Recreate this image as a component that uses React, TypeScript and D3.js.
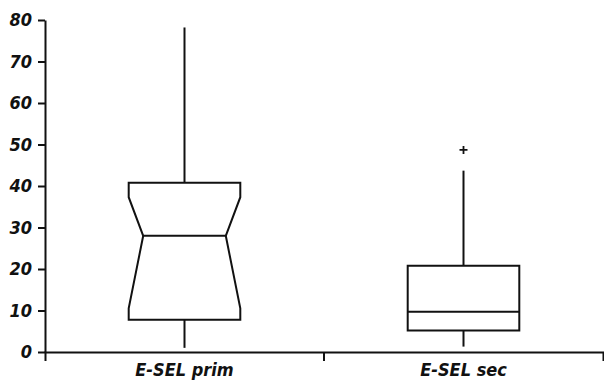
import React, { useEffect, useRef } from 'react';
import * as d3 from 'd3';

const categories = ['E-SEL prim', 'E-SEL sec'];
const whiskerLow = [1, 1.3];
const q1 = [7.8, 5.2];
const median = [28, 9.7];
const q3 = [40.8, 20.8];
const whiskerHigh = [78.2, 43.7];
// notch limits, null means the box is drawn without a notch
const notchLow = [10.5, null];
const notchHigh = [37.3, null];
const outliers = [[], [48.7]];
const yTicks = [0, 10, 20, 30, 40, 50, 60, 70, 80];

const FONT = '"Liberation Sans Narrow", "DejaVu Sans Condensed", "Liberation Sans", sans-serif';

const App = () => {
  const ref = useRef<SVGSVGElement>(null);

  useEffect(() => {
    const svg = d3.select(ref.current);
    svg.selectAll('*').remove();

    const left = 45, right = 603, top = 20, bottom = 352;

    const x = d3.scaleBand().domain(categories).range([left, right]).padding(0);
    const y = d3.scaleLinear().domain([0, 80]).range([bottom, top]);

    const styleText = (sel: any) =>
      sel.attr('fill', '#111')
        .style('font-family', FONT)
        .style('font-size', '18px')
        .style('font-weight', 'bold')
        .style('font-style', 'italic');

    // y axis
    const yAxis = d3.axisLeft(y).tickValues(yTicks).tickSize(7).tickSizeOuter(0).tickPadding(6);
    const gy = svg.append('g').attr('transform', `translate(${left},0)`).call(yAxis);
    gy.selectAll('path, line').attr('stroke', '#111').attr('stroke-width', 2);
    styleText(gy.selectAll('text'));

    // x axis: ends as outer ticks, labels without ticks
    const xAxis = d3.axisBottom(x).tickSize(0).tickSizeOuter(9).tickPadding(11);
    const gx = svg.append('g').attr('transform', `translate(0,${bottom})`).call(xAxis);
    gx.selectAll('path').attr('stroke', '#111').attr('stroke-width', 2);
    styleText(gx.selectAll('text'));
    // boundary ticks between categories
    categories.slice(1).forEach((c) => {
      gx.append('line')
        .attr('x1', x(c)!).attr('x2', x(c)!)
        .attr('y1', 0).attr('y2', 9)
        .attr('stroke', '#111').attr('stroke-width', 2);
    });

    const boxW = x.bandwidth() * 0.4;
    const notchInset = boxW * 0.13;

    categories.forEach((c, i) => {
      const cx = x(c)! + x.bandwidth() / 2;
      const x0 = cx - boxW / 2;
      const x1 = cx + boxW / 2;
      const g = svg.append('g')
        .attr('fill', 'none')
        .attr('stroke', '#111')
        .attr('stroke-width', 2);

      // whiskers
      g.append('line').attr('x1', cx).attr('x2', cx).attr('y1', y(q3[i])).attr('y2', y(whiskerHigh[i]));
      g.append('line').attr('x1', cx).attr('x2', cx).attr('y1', y(q1[i])).attr('y2', y(whiskerLow[i]));

      let pts: [number, number][];
      const nl = notchLow[i];
      const nh = notchHigh[i];
      if (nl != null && nh != null) {
        pts = [
          [x0, y(q3[i])], [x1, y(q3[i])], [x1, y(nh)], [x1 - notchInset, y(median[i])],
          [x1, y(nl)], [x1, y(q1[i])], [x0, y(q1[i])], [x0, y(nl)],
          [x0 + notchInset, y(median[i])], [x0, y(nh)],
        ];
      } else {
        pts = [[x0, y(q3[i])], [x1, y(q3[i])], [x1, y(q1[i])], [x0, y(q1[i])]];
      }
      g.append('path').attr('d', d3.line()(pts) + 'Z').attr('fill', 'white');

      // median
      const inset = nl != null ? notchInset : 0;
      g.append('line')
        .attr('x1', x0 + inset).attr('x2', x1 - inset)
        .attr('y1', y(median[i])).attr('y2', y(median[i]));

      // outliers
      outliers[i].forEach((v) => {
        g.append('path')
          .attr('d', `M${cx - 4},${y(v)}H${cx + 4}M${cx},${y(v) - 4}V${y(v) + 4}`)
          .attr('stroke-width', 1.8);
      });
    });
  }, []);

  return (
    <svg
      ref={ref}
      width={604}
      height={383}
      style={{ position: 'absolute', left: 0, top: 0, background: 'white' }}
    />
  );
};

export default App;
